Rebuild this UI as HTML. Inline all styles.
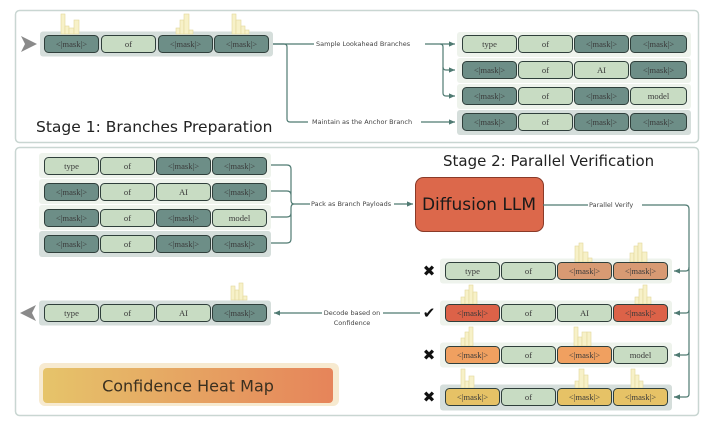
<!DOCTYPE html>
<html><head><meta charset="utf-8"><style>
html,body{margin:0;padding:0;background:#fff;}
svg{display:block}
.c{font-family:"Liberation Serif",serif;font-size:8.6px;fill:#3a3a3a;text-anchor:middle;dominant-baseline:central}
.l{font-family:"DejaVu Sans","Liberation Sans",sans-serif;font-size:6.5px;fill:#444;dominant-baseline:central}
.h rect{fill:#f7f1c8;stroke:#e3d79c;stroke-width:0.6}
.cn{fill:none;stroke:#4f7a72;stroke-width:1.2}
</style></head><body>
<svg width="714" height="426" viewBox="0 0 714 426" xmlns="http://www.w3.org/2000/svg">
<defs><marker id="a" markerWidth="6" markerHeight="6" refX="5" refY="3" orient="auto"><path d="M0,0.8 L5,3 L0,5.2z" fill="#4f7a72"/></marker></defs>
<rect x="15.5" y="10.5" width="683" height="132" rx="4" fill="#fff" stroke="#c9d6d2" stroke-width="1.5"/>
<rect x="15.5" y="147.5" width="683" height="268" rx="4" fill="#fff" stroke="#c9d6d2" stroke-width="1.5"/>

<path d="M21,36 L37,44 L21,52 L25,44z" fill="#8a8a8a"/>
<rect x="40" y="31.5" width="233" height="25" rx="3" fill="#d5dedb"/>
<g class="h"><rect x="61" y="14" width="4" height="20"/><rect x="65" y="26" width="4" height="8"/><rect x="69" y="28" width="5" height="6"/><rect x="74" y="20" width="5" height="14"/></g>
<g class="h"><rect x="176" y="28" width="4" height="6"/><rect x="180" y="20" width="4" height="14"/><rect x="184" y="14" width="5" height="20"/><rect x="189" y="30" width="4" height="4"/></g>
<g class="h"><rect x="232" y="14" width="4" height="20"/><rect x="236" y="20" width="5" height="14"/><rect x="241" y="26" width="4" height="8"/><rect x="245" y="30" width="4" height="4"/></g>
<rect x="44.5" y="35.5" width="54" height="17" rx="4" fill="#6d8e87" stroke="#2f3f3b"/><text class="c" x="71.5" y="44">&lt;|mask|&gt;</text>
<rect x="101.5" y="35.5" width="54" height="17" rx="4" fill="#c8dcc3" stroke="#2f3f3b"/><text class="c" x="128.5" y="44">of</text>
<rect x="158.5" y="35.5" width="54" height="17" rx="4" fill="#6d8e87" stroke="#2f3f3b"/><text class="c" x="185.5" y="44">&lt;|mask|&gt;</text>
<rect x="214.5" y="35.5" width="54" height="17" rx="4" fill="#6d8e87" stroke="#2f3f3b"/><text class="c" x="241.5" y="44">&lt;|mask|&gt;</text>
<text x="36" y="132" font-family="DejaVu Sans,sans-serif" font-size="15.5" fill="#222">Stage 1: Branches Preparation</text>

<path class="cn" d="M273,44 H284 Q287,44 287,47 V119 Q287,122 290,122 H308"/>
<path class="cn" d="M425,44 H455" marker-end="url(#a)"/>
<path class="cn" d="M273,44 H314"/>
<path class="cn" d="M440,44 Q443,44 443,47 V67 Q443,70 446,70 H455" marker-end="url(#a)"/>
<path class="cn" d="M443,67 V93 Q443,96 446,96 H455" marker-end="url(#a)"/>
<path class="cn" d="M421,122 H455" marker-end="url(#a)"/>
<text class="l" x="316" y="44">Sample Lookahead Branches</text>
<text class="l" x="312" y="122">Maintain as the Anchor Branch</text>

<rect x="457" y="32" width="234" height="25" rx="3" fill="#eef3ec"/>
<rect x="457" y="58" width="234" height="25" rx="3" fill="#eef3ec"/>
<rect x="457" y="84" width="234" height="25" rx="3" fill="#eef3ec"/>
<rect x="457" y="110" width="234" height="25" rx="3" fill="#d5dedb"/>
<g>
<rect x="462.5" y="35.5" width="54" height="17" rx="4" fill="#c8dcc3" stroke="#2f3f3b"/><text class="c" x="489.5" y="44">type</text>
<rect x="518.5" y="35.5" width="54" height="17" rx="4" fill="#c8dcc3" stroke="#2f3f3b"/><text class="c" x="545.5" y="44">of</text>
<rect x="574.5" y="35.5" width="54" height="17" rx="4" fill="#6d8e87" stroke="#2f3f3b"/><text class="c" x="601.5" y="44">&lt;|mask|&gt;</text>
<rect x="630.5" y="35.5" width="56" height="17" rx="4" fill="#6d8e87" stroke="#2f3f3b"/><text class="c" x="658.5" y="44">&lt;|mask|&gt;</text>

<rect x="462.5" y="61.5" width="54" height="17" rx="4" fill="#6d8e87" stroke="#2f3f3b"/><text class="c" x="489.5" y="70">&lt;|mask|&gt;</text>
<rect x="518.5" y="61.5" width="54" height="17" rx="4" fill="#c8dcc3" stroke="#2f3f3b"/><text class="c" x="545.5" y="70">of</text>
<rect x="574.5" y="61.5" width="54" height="17" rx="4" fill="#c8dcc3" stroke="#2f3f3b"/><text class="c" x="601.5" y="70">AI</text>
<rect x="630.5" y="61.5" width="56" height="17" rx="4" fill="#6d8e87" stroke="#2f3f3b"/><text class="c" x="658.5" y="70">&lt;|mask|&gt;</text>

<rect x="462.5" y="87.5" width="54" height="17" rx="4" fill="#6d8e87" stroke="#2f3f3b"/><text class="c" x="489.5" y="96">&lt;|mask|&gt;</text>
<rect x="518.5" y="87.5" width="54" height="17" rx="4" fill="#c8dcc3" stroke="#2f3f3b"/><text class="c" x="545.5" y="96">of</text>
<rect x="574.5" y="87.5" width="54" height="17" rx="4" fill="#6d8e87" stroke="#2f3f3b"/><text class="c" x="601.5" y="96">&lt;|mask|&gt;</text>
<rect x="630.5" y="87.5" width="56" height="17" rx="4" fill="#c8dcc3" stroke="#2f3f3b"/><text class="c" x="658.5" y="96">model</text>

<rect x="462.5" y="113.5" width="54" height="17" rx="4" fill="#6d8e87" stroke="#2f3f3b"/><text class="c" x="489.5" y="122">&lt;|mask|&gt;</text>
<rect x="518.5" y="113.5" width="54" height="17" rx="4" fill="#c8dcc3" stroke="#2f3f3b"/><text class="c" x="545.5" y="122">of</text>
<rect x="574.5" y="113.5" width="54" height="17" rx="4" fill="#6d8e87" stroke="#2f3f3b"/><text class="c" x="601.5" y="122">&lt;|mask|&gt;</text>
<rect x="630.5" y="113.5" width="56" height="17" rx="4" fill="#6d8e87" stroke="#2f3f3b"/><text class="c" x="658.5" y="122">&lt;|mask|&gt;</text>
</g>

<rect x="39" y="153" width="232" height="25" rx="3" fill="#eef3ec"/>
<rect x="39" y="179" width="232" height="25" rx="3" fill="#eef3ec"/>
<rect x="39" y="205" width="232" height="25" rx="3" fill="#eef3ec"/>
<rect x="39" y="231" width="232" height="26" rx="3" fill="#d5dedb"/>
<g>
<rect x="44.5" y="157.5" width="54" height="17" rx="4" fill="#c8dcc3" stroke="#2f3f3b"/><text class="c" x="71.5" y="166">type</text>
<rect x="100.5" y="157.5" width="54" height="17" rx="4" fill="#c8dcc3" stroke="#2f3f3b"/><text class="c" x="127.5" y="166">of</text>
<rect x="156.5" y="157.5" width="54" height="17" rx="4" fill="#6d8e87" stroke="#2f3f3b"/><text class="c" x="183.5" y="166">&lt;|mask|&gt;</text>
<rect x="212.5" y="157.5" width="54" height="17" rx="4" fill="#6d8e87" stroke="#2f3f3b"/><text class="c" x="239.5" y="166">&lt;|mask|&gt;</text>

<rect x="44.5" y="183.5" width="54" height="17" rx="4" fill="#6d8e87" stroke="#2f3f3b"/><text class="c" x="71.5" y="192">&lt;|mask|&gt;</text>
<rect x="100.5" y="183.5" width="54" height="17" rx="4" fill="#c8dcc3" stroke="#2f3f3b"/><text class="c" x="127.5" y="192">of</text>
<rect x="156.5" y="183.5" width="54" height="17" rx="4" fill="#c8dcc3" stroke="#2f3f3b"/><text class="c" x="183.5" y="192">AI</text>
<rect x="212.5" y="183.5" width="54" height="17" rx="4" fill="#6d8e87" stroke="#2f3f3b"/><text class="c" x="239.5" y="192">&lt;|mask|&gt;</text>

<rect x="44.5" y="209.5" width="54" height="17" rx="4" fill="#6d8e87" stroke="#2f3f3b"/><text class="c" x="71.5" y="218">&lt;|mask|&gt;</text>
<rect x="100.5" y="209.5" width="54" height="17" rx="4" fill="#c8dcc3" stroke="#2f3f3b"/><text class="c" x="127.5" y="218">of</text>
<rect x="156.5" y="209.5" width="54" height="17" rx="4" fill="#6d8e87" stroke="#2f3f3b"/><text class="c" x="183.5" y="218">&lt;|mask|&gt;</text>
<rect x="212.5" y="209.5" width="54" height="17" rx="4" fill="#c8dcc3" stroke="#2f3f3b"/><text class="c" x="239.5" y="218">model</text>

<rect x="44.5" y="235.5" width="54" height="17" rx="4" fill="#6d8e87" stroke="#2f3f3b"/><text class="c" x="71.5" y="244">&lt;|mask|&gt;</text>
<rect x="100.5" y="235.5" width="54" height="17" rx="4" fill="#c8dcc3" stroke="#2f3f3b"/><text class="c" x="127.5" y="244">of</text>
<rect x="156.5" y="235.5" width="54" height="17" rx="4" fill="#6d8e87" stroke="#2f3f3b"/><text class="c" x="183.5" y="244">&lt;|mask|&gt;</text>
<rect x="212.5" y="235.5" width="54" height="17" rx="4" fill="#6d8e87" stroke="#2f3f3b"/><text class="c" x="239.5" y="244">&lt;|mask|&gt;</text>
</g>
<path class="cn" d="M271,165 H287 Q291,165 291,169 V200 Q291,204 294,204 M271,191 H287 Q291,191 291,195 M271,217 H287 Q291,217 291,213 M271,243 H287 Q291,243 291,239 V208 Q291,204 294,204 H310"/>
<path class="cn" d="M394,204 H413" marker-end="url(#a)"/>
<text class="l" x="311" y="204">Pack as Branch Payloads</text>

<text x="443" y="166" font-family="DejaVu Sans,sans-serif" font-size="15" fill="#222">Stage 2: Parallel Verification</text>

<rect x="415.5" y="177.5" width="128" height="54" rx="8" fill="#dc684b" stroke="#8a3a28"/>
<text x="479" y="205" font-family="DejaVu Sans,sans-serif" font-size="17" fill="#1a1a1a" text-anchor="middle" dominant-baseline="central">Diffusion LLM</text>

<path class="cn" d="M543,205 H588 M642,205 H685 Q689,205 689,209 V394 Q689,397 686,397 H674"/>
<text class="l" x="589" y="205">Parallel Verify</text>
<path class="cn" d="M689,267 Q689,271 686,271 H674" marker-end="url(#a)"/>
<path class="cn" d="M689,310 Q689,313 686,313 H674" marker-end="url(#a)"/>
<path class="cn" d="M689,352 Q689,355 686,355 H674" marker-end="url(#a)"/>
<path class="cn" d="M680,397 H674" marker-end="url(#a)"/>

<rect x="440" y="258.5" width="232" height="25" rx="3" fill="#eef3ec"/>
<rect x="440" y="300.5" width="232" height="25" rx="3" fill="#eef3ec"/>
<rect x="440" y="342.5" width="232" height="25" rx="3" fill="#eef3ec"/>
<rect x="440" y="384.5" width="232" height="26" rx="3" fill="#d5dedb"/>
<g class="h">
<rect x="575" y="246" width="4" height="16"/><rect x="579" y="243" width="4" height="19"/><rect x="583" y="252" width="5" height="10"/><rect x="588" y="258" width="4" height="4"/>
<rect x="630" y="253" width="4" height="9"/><rect x="634" y="246" width="4" height="16"/><rect x="638" y="243" width="4" height="19"/><rect x="642" y="252" width="5" height="10"/>
<rect x="461" y="297" width="4" height="7"/><rect x="465" y="290" width="4" height="14"/><rect x="469" y="285" width="4" height="19"/><rect x="473" y="292" width="4" height="12"/>
<rect x="635" y="297" width="4" height="7"/><rect x="639" y="289" width="4" height="15"/><rect x="643" y="285" width="4" height="19"/><rect x="647" y="297" width="4" height="7"/>
<rect x="461" y="338" width="4" height="8"/><rect x="465" y="332" width="4" height="14"/><rect x="469" y="327" width="4" height="19"/>
<rect x="574" y="327" width="4" height="19"/><rect x="578" y="337" width="4" height="9"/><rect x="582" y="332" width="5" height="14"/><rect x="587" y="332" width="4" height="14"/>
<rect x="461" y="369" width="4" height="19"/><rect x="465" y="381" width="4" height="7"/><rect x="469" y="376" width="5" height="12"/>
<rect x="575" y="381" width="4" height="7"/><rect x="579" y="369" width="5" height="19"/><rect x="584" y="375" width="4" height="13"/>
<rect x="631" y="369" width="4" height="19"/><rect x="635" y="375" width="4" height="13"/><rect x="639" y="381" width="4" height="7"/>
<rect x="231" y="286" width="4" height="14"/><rect x="235" y="290" width="4" height="10"/><rect x="239" y="283" width="4" height="17"/><rect x="243" y="296" width="4" height="4"/>
</g>
<g>
<rect x="445.5" y="262.5" width="54" height="17" rx="4" fill="#c8dcc3" stroke="#2f3f3b"/><text class="c" x="472.5" y="271">type</text>
<rect x="501.5" y="262.5" width="54" height="17" rx="4" fill="#c8dcc3" stroke="#2f3f3b"/><text class="c" x="528.5" y="271">of</text>
<rect x="557.5" y="262.5" width="54" height="17" rx="4" fill="#d89a73" stroke="#2f3f3b"/><text class="c" x="584.5" y="271">&lt;|mask|&gt;</text>
<rect x="613.5" y="262.5" width="54" height="17" rx="4" fill="#d89a73" stroke="#2f3f3b"/><text class="c" x="640.5" y="271">&lt;|mask|&gt;</text>

<rect x="445.5" y="304.5" width="54" height="17" rx="4" fill="#dc6248" stroke="#2f3f3b"/><text class="c" x="472.5" y="313">&lt;|mask|&gt;</text>
<rect x="501.5" y="304.5" width="54" height="17" rx="4" fill="#c8dcc3" stroke="#2f3f3b"/><text class="c" x="528.5" y="313">of</text>
<rect x="557.5" y="304.5" width="54" height="17" rx="4" fill="#c8dcc3" stroke="#2f3f3b"/><text class="c" x="584.5" y="313">AI</text>
<rect x="613.5" y="304.5" width="54" height="17" rx="4" fill="#dc6248" stroke="#2f3f3b"/><text class="c" x="640.5" y="313">&lt;|mask|&gt;</text>

<rect x="445.5" y="346.5" width="54" height="17" rx="4" fill="#f0a060" stroke="#2f3f3b"/><text class="c" x="472.5" y="355">&lt;|mask|&gt;</text>
<rect x="501.5" y="346.5" width="54" height="17" rx="4" fill="#c8dcc3" stroke="#2f3f3b"/><text class="c" x="528.5" y="355">of</text>
<rect x="557.5" y="346.5" width="54" height="17" rx="4" fill="#f0a060" stroke="#2f3f3b"/><text class="c" x="584.5" y="355">&lt;|mask|&gt;</text>
<rect x="613.5" y="346.5" width="54" height="17" rx="4" fill="#c8dcc3" stroke="#2f3f3b"/><text class="c" x="640.5" y="355">model</text>

<rect x="445.5" y="388.5" width="54" height="17" rx="4" fill="#e6c266" stroke="#2f3f3b"/><text class="c" x="472.5" y="397">&lt;|mask|&gt;</text>
<rect x="501.5" y="388.5" width="54" height="17" rx="4" fill="#c8dcc3" stroke="#2f3f3b"/><text class="c" x="528.5" y="397">of</text>
<rect x="557.5" y="388.5" width="54" height="17" rx="4" fill="#e6c266" stroke="#2f3f3b"/><text class="c" x="584.5" y="397">&lt;|mask|&gt;</text>
<rect x="613.5" y="388.5" width="54" height="17" rx="4" fill="#e6c266" stroke="#2f3f3b"/><text class="c" x="640.5" y="397">&lt;|mask|&gt;</text>
</g>
<g font-family="DejaVu Sans,sans-serif" font-size="15" font-weight="bold" fill="#111" text-anchor="middle" dominant-baseline="central">
<text x="429" y="271">✖</text><text x="429" y="313">✔</text><text x="429" y="355">✖</text><text x="429" y="397">✖</text>
</g>

<path d="M36,305 L20,313 L36,321 L32,313z" fill="#8a8a8a"/>
<rect x="39" y="300.5" width="232" height="25" rx="3" fill="#d5dedb"/>
<rect x="44.5" y="304.5" width="54" height="17" rx="4" fill="#c8dcc3" stroke="#2f3f3b"/><text class="c" x="71.5" y="313">type</text>
<rect x="100.5" y="304.5" width="54" height="17" rx="4" fill="#c8dcc3" stroke="#2f3f3b"/><text class="c" x="127.5" y="313">of</text>
<rect x="156.5" y="304.5" width="54" height="17" rx="4" fill="#c8dcc3" stroke="#2f3f3b"/><text class="c" x="183.5" y="313">AI</text>
<rect x="212.5" y="304.5" width="54" height="17" rx="4" fill="#6d8e87" stroke="#2f3f3b"/><text class="c" x="239.5" y="313">&lt;|mask|&gt;</text>
<path class="cn" d="M322,313 H274" marker-end="url(#a)"/>
<path class="cn" d="M383,313 H420"/>
<text class="l" x="352" y="313" text-anchor="middle">Decode based on</text>
<text class="l" x="352" y="323" text-anchor="middle">Confidence</text>

<defs><linearGradient id="g" x1="0" x2="1"><stop offset="0" stop-color="#e6c46a"/><stop offset="1" stop-color="#e6845a"/></linearGradient></defs>
<rect x="39" y="363" width="300" height="43" rx="6" fill="#f7ead0"/>
<rect x="43" y="368" width="290" height="35" rx="4" fill="url(#g)"/>
<text x="188" y="386" font-family="DejaVu Sans,sans-serif" font-size="16" fill="#3a3020" text-anchor="middle" dominant-baseline="central">Confidence Heat Map</text>
</svg>
</body></html>
